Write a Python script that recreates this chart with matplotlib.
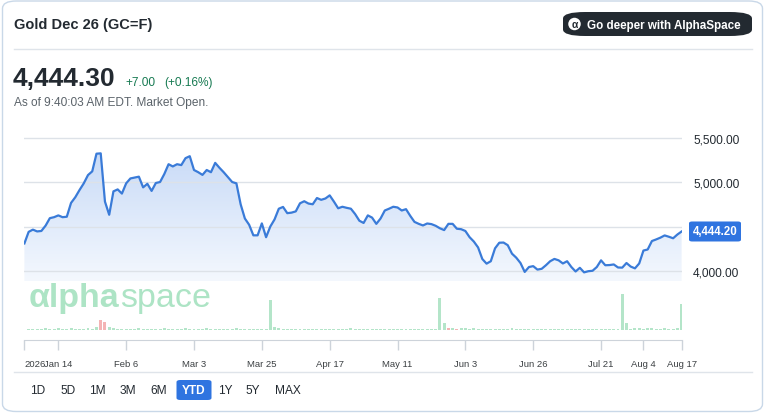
import numpy as np
import pandas as pd
import matplotlib
matplotlib.use("Agg")
import matplotlib.pyplot as plt
from matplotlib.patches import FancyBboxPatch, Ellipse
from matplotlib.colors import LinearSegmentedColormap

plt.rcParams['font.family'] = ['Liberation Sans', 'DejaVu Sans']

# ---------------- data ----------------
holidays = ['2026-01-19', '2026-02-16', '2026-04-03', '2026-05-25', '2026-06-19', '2026-07-03']
prices = [
    4310, 4440, 4465, 4445, 4450, 4510, 4594, 4605, 4625, 4605,
    4610, 4765, 4829, 4910, 4985, 5078, 5120, 5318, 5322, 4780,
    4632, 4895, 4917, 4870, 4985, 5040, 5050, 5060, 4940, 4980,
    4900, 4989, 5000, 5090, 5200, 5175, 5200, 5190, 5268, 5290,
    5135, 5110, 5080, 5135, 5110, 5215, 5160, 5110, 5055, 5000,
    4985, 4750, 4590, 4520, 4401, 4401, 4535, 4380, 4500, 4580,
    4700, 4720, 4650, 4656, 4670, 4761, 4784, 4758, 4750, 4820,
    4800, 4815, 4850, 4780, 4705, 4722, 4710, 4700, 4640, 4565,
    4540, 4625, 4600, 4530, 4590, 4680, 4700, 4722, 4714, 4680,
    4695, 4620, 4552, 4530, 4512, 4534, 4527, 4508, 4480, 4460,
    4530, 4530, 4475, 4470, 4450, 4380, 4331, 4265, 4135, 4083,
    4110, 4255, 4318, 4320, 4290, 4195, 4150, 4090, 3990, 4045,
    4055, 4016, 4025, 4065, 4110, 4136, 4120, 4085, 4110, 4045,
    3995, 4036, 3985, 3998, 4003, 4045, 4120, 4065, 4067, 4074,
    4040, 4038, 4090, 4050, 4030, 4085, 4230, 4242, 4337, 4355,
    4375, 4400, 4385, 4368, 4410, 4444,
]
volumes = [
    0, 1, 1, 1, 1, 2, 1, 1, 2, 1,
    1, 2, 1, 1, 1, 2, 1, 3, 10, 8,
    3, 2, 1, 1, 1, 1, 1, 2, 1, 1,
    1, 1, 1, 2, 1, 1, 1, 1, 2, 1,
    1, 1, 1, 2, 1, 1, 1, 1, 1, 1,
    2, 1, 1, 1, 1, 1, 1, 1, 30, 3,
    2, 1, 1, 1, 1, 1, 1, 1, 1, 1,
    1, 1, 1, 1, 1, 1, 1, 2, 1, 1,
    1, 1, 1, 1, 1, 1, 1, 1, 1, 1,
    1, 1, 1, 1, 1, 1, 1, 1, 32, 7,
    2, 2, 1, 2, 2, 1, 2, 1, 1, 1,
    1, 1, 1, 1, 1, 2, 1, 1, 1, 1,
    1, 1, 1, 1, 1, 1, 1, 1, 1, 1,
    1, 1, 1, 1, 1, 1, 1, 1, 1, 1,
    1, 36, 7, 1, 2, 2, 1, 2, 2, 1,
    1, 2, 1, 1, 2, 26,
]
down_days = ['2026-01-29', '2026-01-30', '2026-05-28', '2026-06-01']
tick_dates = ['2026-01-02', '2026-01-14', '2026-02-06', '2026-03-03', '2026-03-25', '2026-04-17',
              '2026-05-11', '2026-06-03', '2026-06-26', '2026-07-21', '2026-08-04', '2026-08-17']
tick_labels = ['2026', 'Jan 14', 'Feb 6', 'Mar 3', 'Mar 25', 'Apr 17', 'May 11', 'Jun 3',
               'Jun 26', 'Jul 21', 'Aug 4', 'Aug 17']
grid_values = [4000, 4500, 5000, 5500]
y_ticks = [4000, 5000, 5500]
y_labels = ['4,000.00', '5,000.00', '5,500.00']
last_tag = '4,444.20'
last_value = 4444.2
ranges = ['1D', '5D', '1M', '3M', '6M', 'YTD', '1Y', '5Y', 'MAX']
active_range = 'YTD'

dates = pd.bdate_range('2026-01-02', '2026-08-17', freq='C', holidays=holidays)
idx = np.arange(len(dates))
date_pos = {d.strftime('%Y-%m-%d'): i for i, d in enumerate(dates)}

# ---------------- figure ----------------
W, H = 765, 414
fig = plt.figure(figsize=(W / 100, H / 100), dpi=100)
fig.patch.set_facecolor('white')

def fx(x):
    return x / W

def fy(y):
    return 1 - y / H

TXT = '#232a31'
GREY = '#5b636a'
BLUE = '#2f74e0'

# card border
card = FancyBboxPatch((fx(2.5), fy(412.5)), fx(760), (410.5) / H,
                      boxstyle='round,pad=0,rounding_size=0.018',
                      transform=fig.transFigure, facecolor='none', edgecolor='#c9d8e8',
                      lw=1.0, zorder=-1)
fig.patches.append(card)

# header
fig.text(fx(14), fy(25), 'Gold Dec 26 (GC=F)', fontsize=10.5, weight='bold', color=TXT,
         va='center', ha='left')
fig.add_artist(plt.Line2D([fx(14), fx(752)], [fy(49.5), fy(49.5)], color='#dfe4ea', lw=1,
                          transform=fig.transFigure))
pill = FancyBboxPatch((fx(563), fy(37)), fx(189), 24 / H,
                      boxstyle='round,pad=0,rounding_size=0.029', mutation_aspect=H / W * 1.0,
                      transform=fig.transFigure, facecolor='#232a31', edgecolor='none')
fig.patches.append(pill)
circ = Ellipse((fx(574.5), fy(25)), 12.5 / W, 12.5 / H, transform=fig.transFigure,
               facecolor='white', edgecolor='none', zorder=2)
fig.patches.append(circ)
fig.text(fx(574.5), fy(25.5), 'α', fontsize=7.5, weight='bold', color='#232a31', ha='center',
         va='center', zorder=3)
fig.text(fx(587), fy(25.5), 'Go deeper with AlphaSpace', fontsize=8.4, weight='bold',
         color='white', ha='left', va='center')

fig.text(fx(13), fy(86), '4,444.30', fontsize=19, weight='bold', color=TXT, ha='left',
         va='baseline')
fig.text(fx(125), fy(86), '+7.00', fontsize=8.6, color='#177a52', ha='left', va='baseline')
fig.text(fx(164), fy(86), '(+0.16%)', fontsize=8.6, color='#177a52', ha='left', va='baseline')
fig.text(fx(14), fy(106), 'As of 9:40:03 AM EDT. Market Open.', fontsize=8.6, color=GREY,
         ha='left', va='baseline')

# ---------------- price axes ----------------
x0, x1 = 24.4, 681.6
ytop, ybot = 128, 282
ax = fig.add_axes([fx(x0), fy(ybot), (x1 - x0) / W, (ybot - ytop) / H])
ymin, ymax = 3888, 5618
ax.set_facecolor('none')
for s in ax.spines.values():
    s.set_visible(False)

p = np.array(prices, dtype=float)
poly = ax.fill_between(idx, p, ymin, facecolor='none', edgecolor='none')
cmap = LinearSegmentedColormap.from_list('g', ['#f4f8fe', '#c9dbf7'])
grad = np.linspace(0, 1, 256).reshape(-1, 1)
im = ax.imshow(grad, extent=[idx[0], idx[-1], ymin, p.max()], origin='lower', aspect='auto',
               cmap=cmap, zorder=1, interpolation='bilinear')
im.set_clip_path(poly.get_paths()[0], ax.transData)
for yt in grid_values:
    ax.axhline(yt, color='#dde2e8', lw=1.0, zorder=2)
ax.plot(idx, p, color='#3a7bd8', lw=1.6, zorder=3, solid_joinstyle='round')
ax.set_xlim(idx[0], idx[-1])
ax.set_ylim(ymin, ymax)
ax.set_xticks([])
ax.yaxis.tick_right()
ax.set_yticks(y_ticks)
ax.set_yticklabels(y_labels)
ax.tick_params(axis='y', length=0, pad=8.3, labelsize=8.6, labelcolor=TXT)
for lab in ax.get_yticklabels():
    lab.set_ha('left')

# last price tag
ty = fig.transFigure.inverted().transform(ax.transData.transform((0, last_value)))[1]
tag = FancyBboxPatch((fx(689), ty - 10 / H), fx(52), 20 / H,
                     boxstyle='round,pad=0,rounding_size=0.004', transform=fig.transFigure,
                     facecolor=BLUE, edgecolor='none')
fig.patches.append(tag)
fig.text(fx(715), ty, last_tag, fontsize=8.3, weight='bold', color='white', ha='center',
         va='center')

# ---------------- volume axes ----------------
vtop, vbot = 288, 341
axv = fig.add_axes([fx(x0), fy(vbot), (x1 - x0) / W, (vbot - vtop) / H])
axv.set_facecolor('none')
for k in ['top', 'right', 'left']:
    axv.spines[k].set_visible(False)
axv.spines['bottom'].set_color('#cdd3da')
down_idx = {date_pos[d] for d in down_days}
colors = ['#f4b4b4' if i in down_idx else '#b4e5c9' for i in idx]

# watermark
WM = '#ade4c5'
wm1 = fig.text(fx(29), fy(307), 'αlpha', fontsize=24.5, weight='bold', color=WM,
               ha='left', va='baseline', zorder=0)
fig.canvas.draw()
bb = wm1.get_window_extent()
fig.text(bb.x1 / W, fy(307), 'space', fontsize=24.5, color=WM, ha='left',
         va='baseline', zorder=0)

axv.bar(idx, volumes, width=0.7, color=colors, zorder=2)
axv.set_xlim(idx[0], idx[-1])
axv.set_ylim(-10, 43)
axv.set_yticks([])
tpos = [date_pos[d] for d in tick_dates]
axv.set_xticks(tpos)
axv.set_xticklabels(tick_labels)
axv.tick_params(axis='x', length=7.5, width=1, color='#cdd3da', pad=6, labelsize=6.8,
                labelcolor='#3c4043')
axv.get_xticklabels()[0].set_ha('left')

# ---------------- bottom range buttons ----------------
fig.add_artist(plt.Line2D([fx(14), fx(752)], [fy(372.5), fy(372.5)], color='#dfe4ea', lw=1,
                          transform=fig.transFigure))
btn_x = [38, 68, 97, 128, 159, 194, 225.5, 253, 288]
for lab, bx in zip(ranges, btn_x):
    if lab == active_range:
        b = FancyBboxPatch((fx(bx - 17.5), fy(401)), fx(35), 20 / H,
                           boxstyle='round,pad=0,rounding_size=0.005',
                           transform=fig.transFigure, facecolor=BLUE, edgecolor='none')
        fig.patches.append(b)
        fig.text(fx(bx), fy(391), lab, fontsize=8.6, weight='bold', color='white',
                 ha='center', va='center')
    else:
        fig.text(fx(bx), fy(391), lab, fontsize=8.6, color=TXT, ha='center', va='center')

fig.savefig('out.png', dpi=100, facecolor='white')
